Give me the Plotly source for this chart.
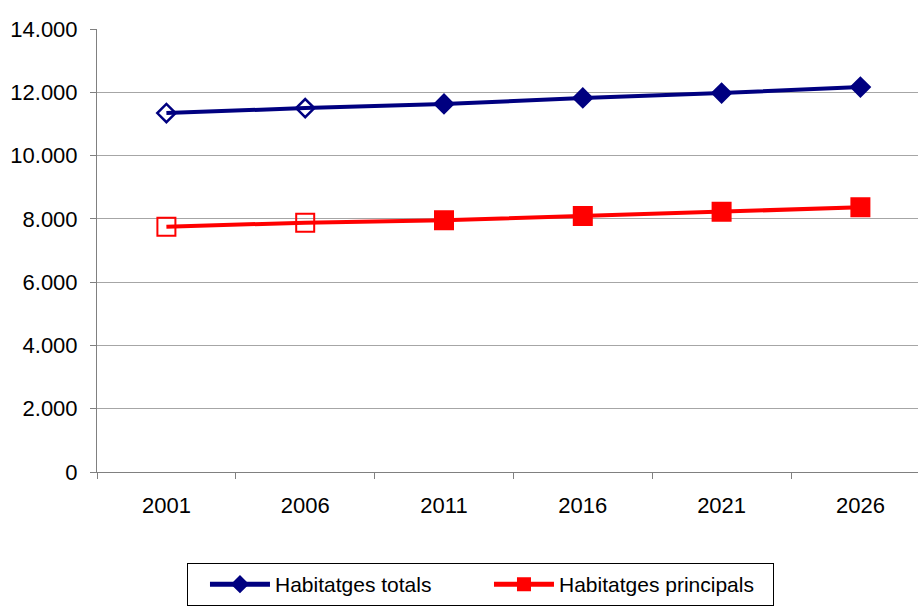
# -*- coding: utf-8 -*-
#-------------------------------------------------------
### IMPORTS ###

import plotly.graph_objects as go


#-------------------------------------------------------
### DATA ###

anys = ['2001', '2006', '2011', '2016', '2021', '2026']

habitatges_totals = [11345, 11500, 11630, 11820, 11975, 12165]
habitatges_principals = [7750, 7880, 7955, 8090, 8225, 8365]

# first two years are observed (hollow markers), the rest projected
simbols_totals = ['diamond-open', 'diamond-open',
                  'diamond', 'diamond', 'diamond', 'diamond']
simbols_principals = ['square-open', 'square-open',
                      'square', 'square', 'square', 'square']


#-------------------------------------------------------
### FIGURE ###

font = 'Arial, Liberation Sans, sans-serif'

# traces are fed last year first so the legend picks up a filled marker
fig = go.Figure()

fig.add_trace(go.Scatter(x=anys[::-1], y=habitatges_totals[::-1],
                         name='Habitatges totals',
                         mode='lines+markers',
                         line=dict(color='#000080', width=4),
                         marker=dict(symbol=simbols_totals[::-1], size=14,
                                     color='#000080',
                                     line=dict(color='#000080', width=2.5))))

fig.add_trace(go.Scatter(x=anys[::-1], y=habitatges_principals[::-1],
                         name='Habitatges principals',
                         mode='lines+markers',
                         line=dict(color='#FF0000', width=4),
                         marker=dict(symbol=simbols_principals[::-1], size=18,
                                     color='#FF0000',
                                     line=dict(color='#FF0000', width=2))))

fig.update_layout(width=918,
                  height=612,
                  autosize=False,
                  paper_bgcolor='white',
                  plot_bgcolor='white',
                  separators=',.',
                  font=dict(family=font, size=22, color='black'),
                  margin=dict(l=97, r=0, t=29, b=140, pad=0),
                  legend=dict(orientation='h',
                              x=0.1096, xanchor='left',
                              y=-0.2054, yanchor='top',
                              bordercolor='black',
                              borderwidth=1,
                              font=dict(size=21),
                              title=dict(text='\u2002', font=dict(size=14)),
                              itemsizing='constant',
                              itemwidth=60,
                              entrywidth=209,
                              entrywidthmode='pixels'))

fig.update_xaxes(type='category',
                 categoryorder='array',
                 categoryarray=anys,
                 range=[-0.5, 5.415],
                 showgrid=False,
                 showline=True,
                 linecolor='#808080',
                 linewidth=1,
                 ticks='outside',
                 tickson='boundaries',
                 ticklen=6,
                 tickcolor='#808080',
                 ticklabelstandoff=14,
                 zeroline=False)

fig.update_yaxes(range=[0, 14000],
                 dtick=2000,
                 tickformat=',d',
                 showgrid=True,
                 gridcolor='#A6A6A6',
                 gridwidth=1,
                 showline=True,
                 linecolor='#808080',
                 linewidth=1,
                 ticks='outside',
                 ticklen=6,
                 tickcolor='#808080',
                 ticklabelstandoff=8,
                 zeroline=False)


#-------------------------------------------------------
### PLOT ###

fig.write_html('out.html',
               config=dict(displayModeBar=False),
               post_script="document.body.style.margin='0';")
